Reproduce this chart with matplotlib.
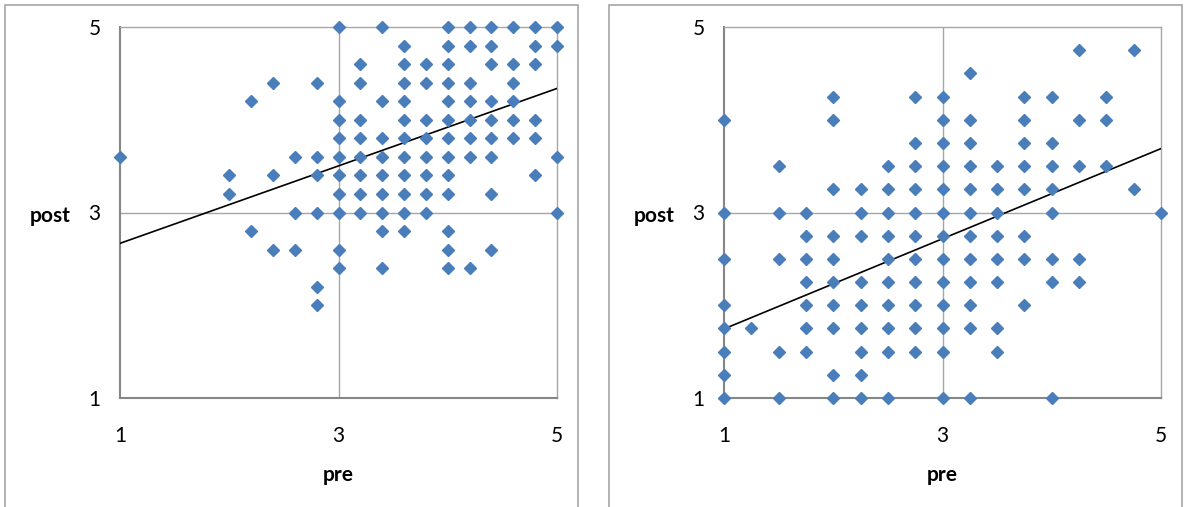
import numpy as np
import matplotlib
matplotlib.use('Agg')
import matplotlib.pyplot as plt
from matplotlib.patches import Rectangle

plt.rcParams.update({'font.family': ['Lato', 'DejaVu Sans'], 'font.size': 15})

# left chart: pre/post pairs, grouped by post value (top row first)
left_pre = [3.0, 3.4, 4.0, 4.2, 4.4, 4.6, 4.8, 5.0,
            3.6, 4.0, 4.2, 4.4, 4.8, 5.0,
            3.2, 3.6, 3.8, 4.0, 4.4, 4.6, 4.8,
            2.4, 2.8, 3.2, 3.6, 3.8, 4.0, 4.2, 4.6,
            2.2, 3.0, 3.4, 3.6, 4.0, 4.2, 4.4, 4.6,
            3.0, 3.2, 3.6, 3.8, 4.0, 4.2, 4.4, 4.6, 4.8,
            3.0, 3.2, 3.4, 3.6, 3.8, 4.0, 4.2, 4.4, 4.6, 4.8,
            1.0, 2.6, 2.8, 3.0, 3.2, 3.4, 3.6, 3.8, 4.0, 4.2, 4.4, 5.0,
            2.0, 2.4, 2.8, 3.0, 3.2, 3.4, 3.6, 3.8, 4.0, 4.8,
            2.0, 3.0, 3.2, 3.4, 3.6, 3.8, 4.0, 4.4,
            2.6, 2.8, 3.0, 3.2, 3.4, 3.6, 3.8, 5.0,
            2.2, 3.4, 3.6, 4.0,
            2.4, 2.6, 3.0, 4.0, 4.4,
            3.0, 3.4, 4.0, 4.2,
            2.8,
            2.8]
left_post = ([5.0] * 8 + [4.8] * 6 + [4.6] * 7 + [4.4] * 8 + [4.2] * 8
             + [4.0] * 9 + [3.8] * 10 + [3.6] * 12 + [3.4] * 10 + [3.2] * 8
             + [3.0] * 8 + [2.8] * 4 + [2.6] * 5 + [2.4] * 4 + [2.2] + [2.0])

# right chart
right_pre = [4.25, 4.75,
             3.25,
             2.0, 2.75, 3.0, 3.75, 4.0, 4.5,
             1.0, 2.0, 3.0, 3.25, 3.75, 4.25, 4.5,
             2.75, 3.0, 3.25, 3.75, 4.0,
             1.5, 2.5, 2.75, 3.0, 3.25, 3.5, 3.75, 4.0, 4.25, 4.5,
             2.0, 2.25, 2.5, 2.75, 3.0, 3.25, 3.5, 3.75, 4.0, 4.75,
             1.0, 1.5, 1.75, 2.25, 2.5, 2.75, 3.0, 3.25, 3.5, 4.0, 5.0,
             1.75, 2.0, 2.25, 2.5, 2.75, 3.0, 3.25, 3.5, 3.75,
             1.0, 1.5, 1.75, 2.0, 2.5, 2.75, 3.0, 3.25, 3.5, 3.75, 4.0, 4.25,
             1.75, 2.0, 2.25, 2.5, 2.75, 3.0, 3.25, 3.5, 4.0, 4.25,
             1.0, 1.75, 2.0, 2.25, 2.5, 2.75, 3.0, 3.25, 3.75,
             1.0, 1.25, 1.75, 2.0, 2.25, 2.5, 2.75, 3.0, 3.25, 3.5,
             1.0, 1.5, 1.75, 2.25, 2.5, 2.75, 3.0, 3.5,
             1.0, 2.0, 2.25,
             1.0, 1.5, 2.0, 2.25, 2.5, 3.0, 3.25, 4.0]
right_post = ([4.75] * 2 + [4.5] + [4.25] * 6 + [4.0] * 7 + [3.75] * 5
              + [3.5] * 10 + [3.25] * 10 + [3.0] * 11 + [2.75] * 9
              + [2.5] * 12 + [2.25] * 10 + [2.0] * 9 + [1.75] * 10
              + [1.5] * 8 + [1.25] * 3 + [1.0] * 8)

# linear trend lines (slope, intercept) as shown
left_trend = (0.4175, 2.25)
right_trend = (0.486, 1.259)

ticks = [1, 3, 5]

fig = plt.figure(figsize=(11.84, 5.07), dpi=100)

# chart area frames
for x0 in (5, 609):
    fig.add_artist(Rectangle((x0 / 1184, -0.05), 573 / 1184, 1.05 - 5 / 507,
                             transform=fig.transFigure, fill=False,
                             edgecolor='#a6a6a6', linewidth=1.2))

panels = [(120, left_pre, left_post, left_trend),
          (724, right_pre, right_post, right_trend)]

for left_px, pre, post, trend in panels:
    ax = fig.add_axes([left_px / 1184, 1 - 398 / 507, 437 / 1184, 371 / 507])
    ax.set_xlim(1, 5)
    ax.set_ylim(1, 5)
    ax.set_xticks(ticks)
    ax.set_yticks(ticks)
    ax.tick_params(length=0)
    ax.tick_params(axis='x', pad=20)
    ax.tick_params(axis='y', pad=14)
    ax.axvline(3, color='#a6a6a6', lw=1, zorder=1)
    ax.axhline(3, color='#a6a6a6', lw=1, zorder=1)
    for s in ('top', 'right'):
        ax.spines[s].set_color('#a6a6a6')
        ax.spines[s].set_linewidth(1)
    for s in ('left', 'bottom'):
        ax.spines[s].set_color('#868686')
        ax.spines[s].set_linewidth(1.5)

    ax.plot(pre, post, 'D', color='#4a7ebb', ms=6.2, mec='#4a7ebb',
            clip_on=False, zorder=5)
    xs = np.array([1.0, 5.0])
    ax.plot(xs, trend[0] * xs + trend[1], color='black', lw=1.2, zorder=4)

    ax.set_xlabel('pre', fontweight='bold')
    ax.set_ylabel('post', fontweight='bold', rotation=0, va='center', ha='center')
    ax.xaxis.set_label_coords(0.5, -0.2075)
    ax.yaxis.set_label_coords(-0.16, 0.49)
    ax.xaxis.label.set_va('center')

fig.savefig('out.png', dpi=100)
